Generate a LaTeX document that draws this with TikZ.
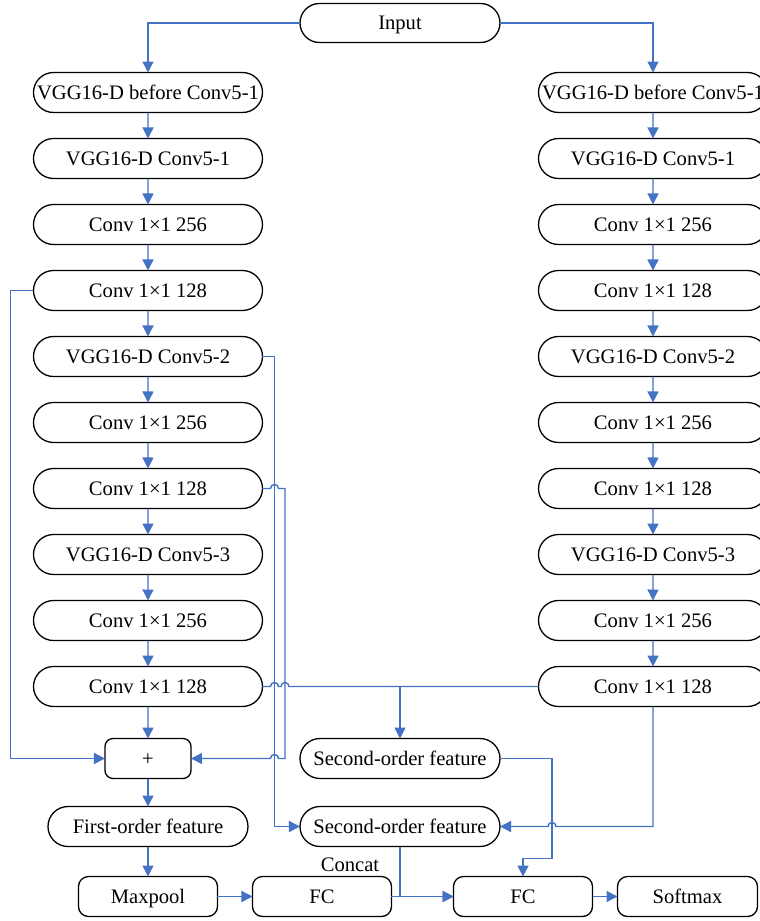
\documentclass[tikz,border=0pt]{standalone}
\usepackage{fontspec}
\setmainfont{Liberation Serif}
\usetikzlibrary{shapes,arrows.meta,positioning,calc}
\definecolor{lnblue}{RGB}{68,114,196}
\tikzset{
  blk/.style = {align=center, inner sep=0pt, outer sep=0pt, text centered, draw=black,
    line width=0.65pt, font=\fontsize{10.3}{12}\selectfont, text height=6.8pt, text depth=0pt,
    minimum height=20pt},
  blk_s/.style = {blk, rounded rectangle, minimum width=114.5pt},% couche, bouts ronds
  blk_f/.style = {blk, rounded rectangle, minimum width=100pt},% feature, bouts ronds
  blk_r/.style = {blk, rectangle, rounded corners=5pt, minimum width=69.5pt},% maxpool, fc
  lnk/.style = {lnblue, line width=0.7pt}% liaison bleue
}
\begin{document}
\begin{tikzpicture}[-,>={Triangle[length=5.5pt,width=5.5pt]}]
        \useasboundingbox[fill=white] (-200pt,11.5pt) rectangle (180pt,-449pt);
        \node [blk_f, minimum height=19.5pt](in){Input};
        % colonne gauche
        \node [blk_s, below=15pt of in, xshift=-126pt](L1){VGG16-D before Conv5-1};
        \node [blk_s, below=13pt of L1](L2){VGG16-D Conv5-1};
        \node [blk_s, below=13pt of L2](L3){Conv 1×1 256};
        \node [blk_s, below=13pt of L3](L4){Conv 1×1 128};
        \node [blk_s, below=13pt of L4](L5){VGG16-D Conv5-2};
        \node [blk_s, below=13pt of L5](L6){Conv 1×1 256};
        \node [blk_s, below=13pt of L6](L7){Conv 1×1 128};
        \node [blk_s, below=13pt of L7](L8){VGG16-D Conv5-3};
        \node [blk_s, below=13pt of L8](L9){Conv 1×1 256};
        \node [blk_s, below=13pt of L9](L10){Conv 1×1 128};
        % colonne droite
        \node [blk_s, below=15pt of in, xshift=126.5pt](R1){VGG16-D before Conv5-1};
        \node [blk_s, below=13pt of R1](R2){VGG16-D Conv5-1};
        \node [blk_s, below=13pt of R2](R3){Conv 1×1 256};
        \node [blk_s, below=13pt of R3](R4){Conv 1×1 128};
        \node [blk_s, below=13pt of R4](R5){VGG16-D Conv5-2};
        \node [blk_s, below=13pt of R5](R6){Conv 1×1 256};
        \node [blk_s, below=13pt of R6](R7){Conv 1×1 128};
        \node [blk_s, below=13pt of R7](R8){VGG16-D Conv5-3};
        \node [blk_s, below=13pt of R8](R9){Conv 1×1 256};
        \node [blk_s, below=13pt of R9](R10){Conv 1×1 128};
        % bas
        \node [blk, rounded corners=4pt, minimum width=43pt, below=16pt of L10](P){+};
        \node [blk_f, below=14pt of P](F1){First-order feature};
        \node [blk_r, below=15pt of F1](M){Maxpool};
        \node [blk_r, right=17.5pt of M](FC1){FC};
        \node [blk_r, right=31pt of FC1](FC2){FC};
        \node [blk_r, minimum width=70pt, right=12.5pt of FC2](S){Softmax};
        \node [blk_f, right=26pt of F1](F2b){Second-order feature};
        \node [blk_f, above=14pt of F2b](F2a){Second-order feature};
        \node [inner sep=0pt, font=\fontsize{10.3}{12}\selectfont, text height=6.8pt, text depth=0pt,
            below=5.5pt of F2b.south, xshift=-25pt](C){Concat};
        % liaisons
        \draw [lnk,->] (in.west) -| (L1.north);
        \draw [lnk,->] (in.east) -| (R1.north);
        \draw [lnk,->] (L1) -- (L2);
        \draw [lnk,->] (L2) -- (L3);
        \draw [lnk,->] (L3) -- (L4);
        \draw [lnk,->] (L4) -- (L5);
        \draw [lnk,->] (L5) -- (L6);
        \draw [lnk,->] (L6) -- (L7);
        \draw [lnk,->] (L7) -- (L8);
        \draw [lnk,->] (L8) -- (L9);
        \draw [lnk,->] (L9) -- (L10);
        \draw [lnk,->] (L10) -- (P);
        \draw [lnk,->] (R1) -- (R2);
        \draw [lnk,->] (R2) -- (R3);
        \draw [lnk,->] (R3) -- (R4);
        \draw [lnk,->] (R4) -- (R5);
        \draw [lnk,->] (R5) -- (R6);
        \draw [lnk,->] (R6) -- (R7);
        \draw [lnk,->] (R7) -- (R8);
        \draw [lnk,->] (R8) -- (R9);
        \draw [lnk,->] (R9) -- (R10);
        \draw [lnk,->] (P) -- (F1);
        \draw [lnk,->] (F1) -- (M);
        \draw [lnk,->] (M) -- (FC1);
        \draw [lnk,->] (FC1) -- (FC2);
        \draw [lnk,->] (FC2) -- (S);
        \draw [lnk,->] (L4.west) -- ++(-11.5pt,0) |- (P.west);
        \draw [lnk,->] (L5.east) -- ++(6pt,0) coordinate (v1) |- (F2b.west);
        \draw [lnk,->] (L7.east) -- ($(v1 |- L7.east)+(-2pt,0)$) arc[start angle=180,end angle=0,radius=2pt]
            -- ++(3.25pt,0) coordinate (v2) |- ($(v1 |- P.east)+(2pt,0)$) arc[start angle=0,end angle=180,radius=2pt] -- (P.east);
        \draw [lnk] (L10.east) -- ($(v1 |- L10.east)+(-2pt,0)$) arc[start angle=180,end angle=0,radius=2pt]
            -- ($(v2 |- L10.east)+(-2pt,0)$) arc[start angle=180,end angle=0,radius=2pt] -- (R10.west);
        \draw [lnk,->] (F2a.north |- L10.east) -- (F2a.north);
        \draw [lnk,->] (F2a.east) -- ++(26pt,0) coordinate (v3) -- ++(0,-50pt) -| (FC2.north);
        \draw [lnk,->] (R10.south) |- ($(v3 |- F2b.east)+(2pt,0)$) arc[start angle=0,end angle=180,radius=2pt] -- (F2b.east);
        \draw [lnk,->] (F2b.south) |- (FC2.west);
\end{tikzpicture}
\end{document}
